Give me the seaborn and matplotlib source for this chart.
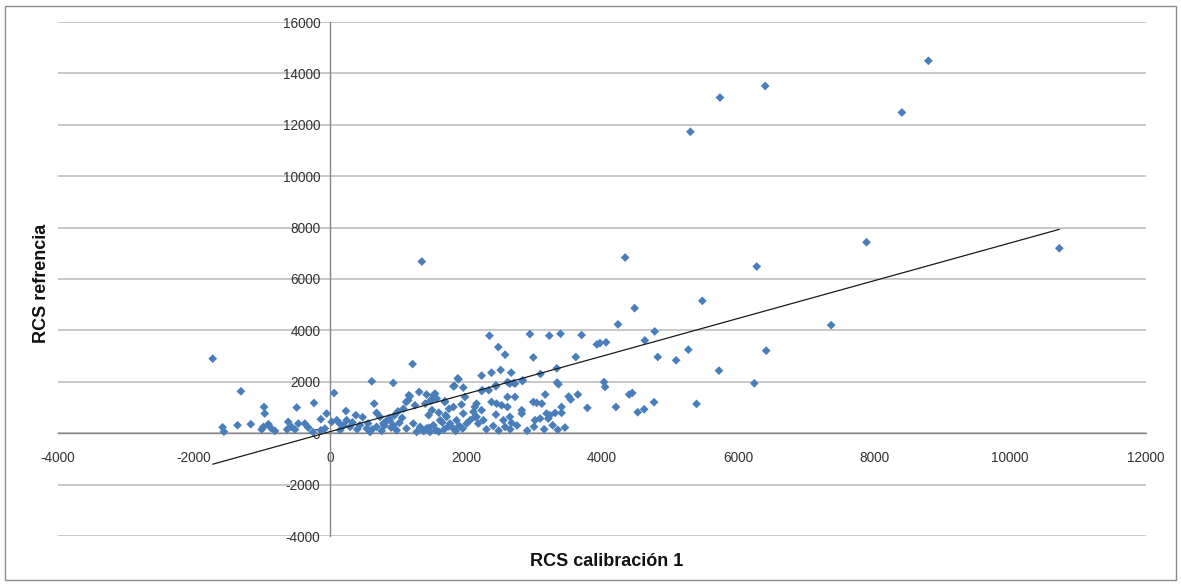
import numpy as np
import pandas as pd
import matplotlib
matplotlib.use("Agg")
import matplotlib.pyplot as plt
import seaborn as sns
from matplotlib.patches import Rectangle

# ---- data ----
calib_x = [
    5300, 5735, 6400, 8410, 8800, 7890, 6275, 5475, 4775, 4630, 7370, 4820, 5090, 5270, 6415,
    5720, 6240, 4765, 4620, 5390, 10725, 1350, 4340, 4480, 4235, 4060, 3970, 4030, 4045, 4400,
    4445, 4205, 4525, 1215, 2345, 2475, 2575, 2940, 3225, 3390, 3700, 2990, 3615, 3925, 2230,
    2375, 2510, 2665, 3095, 3335, 1880, 1815, 1890, 1960, 2240, 2335, 2440, 2610, 2705, 2835,
    3165, 3340, 3510, 3540, 3645, 3785, 1420, 1545, 1495, 1690, -1725, -1310, -1580, -1560, -1360,
    -1165, -970, -960, -980, -905, -870, -810, -1005, -615, -630, -565, -515, -490, -465, -370,
    -320, -235, -135, -135, -75, -50, 60, 25, 100, -250, 615, 930, 1310, 1175, 1150,
    1570, 1830, 1160, 1520, 1120, 1250, 1400, 1470, 650, 235, 380, 685, 735, 1690, 1815,
    1935, 1985, 2155, 2110, 2155, 145, 245, 295, 440, 540, 590, 685, 785, 880, 930,
    980, 1125, 1225, 1275, 1325, 1420, 1470, 1520, 1620, 1715, 1765, 1815, 1860, 1960, 2010,
    2060, 2130, 2180, 3360, 2230, 2440, 2645, 2720, 2830, 2610, 2720, 2130, 2230, 2375, 2450,
    2525, 2610, 2255, 2440, 2550, 2645, 2670, 2575, 2820, 2820, 2990, 3040, 3115, 3015, 3090,
    3185, 3235, 3310, 3210, 3275, 3405, 3405, 3455, 150, 330, 480, 560, 620, 760, 820,
    900, 1020, 1060, 200, 400, 1380, 1450, 1560, 1600, 1680, 1740, 1850, 1900, 1950, 1650,
    1600, 1700, 1750, 1500, 1450, 2300, 2400, 2480, 2650, 2750, 2900, 3000, 3150, 3350, 800,
    870, 950, 1000, 1080,
]
ref_y = [
    11730, 13060, 13510, 12480, 14490, 7430, 6485, 5150, 3960, 3610, 4205, 2965, 2835, 3250, 3210,
    2435, 1940, 1205, 930, 1140, 7195, 6680, 6835, 4865, 4235, 3535, 3505, 1990, 1800, 1505,
    1565, 1020, 815, 2690, 3795, 3350, 3055, 3855, 3795, 3870, 3820, 2950, 2965, 3455, 2240,
    2355, 2460, 2355, 2305, 2525, 2135, 1825, 2095, 1775, 1670, 1670, 1825, 1990, 1955, 2060,
    1505, 1970, 1425, 1310, 1505, 985, 1505, 1540, 1280, 1245, 2900, 1630, 230, 60, 310,
    350, 1020, 765, 245, 350, 205, 90, 145, 440, 145, 245, 145, 1000, 375, 375,
    220, 1175, 545, 115, 180, 765, 1565, 440, 505, 40, 2020, 1955, 1605, 1435, 1280,
    1345, 1840, 1475, 1475, 1215, 1085, 1150, 1255, 1150, 865, 700, 790, 635, 1215, 1020,
    1115, 1410, 1150, 830, 635, 375, 505, 245, 310, 180, 50, 245, 375, 505, 310,
    115, 180, 375, 50, 245, 180, 50, 310, 505, 635, 375, 180, 505, 765, 375,
    505, 635, 375, 1905, 1645, 1865, 1930, 1930, 2030, 1410, 1410, 1020, 895, 1215, 1150,
    1085, 1020, 505, 725, 505, 635, 400, 245, 895, 765, 1215, 1180, 1150, 505, 570,
    765, 700, 790, 570, 310, 1020, 790, 220, 120, 420, 620, 380, 150, 90, 450,
    220, 400, 600, 300, 150, 80, 210, 120, 60, 150, 260, 90, 290, 180, 420,
    800, 700, 950, 900, 700, 150, 280, 100, 150, 300, 100, 250, 150, 130, 300,
    580, 700, 850, 950,
]
# linear trend line (Excel-style), coefficients
trend_slope = 0.734
trend_intercept = 60.0

x_ticks = [-4000, -2000, 0, 2000, 4000, 6000, 8000, 10000, 12000]
y_ticks = [-4000, -2000, 0, 2000, 4000, 6000, 8000, 10000, 12000, 14000, 16000]
x_label = "RCS calibración 1"
y_label = "RCS refrencia"

df = pd.DataFrame({"x": calib_x, "y": ref_y})

sns.set_theme(style="white")
plt.rcParams["font.family"] = ["Liberation Sans", "DejaVu Sans"]

fig = plt.figure(figsize=(11.81, 5.86), dpi=100)
ax = fig.add_axes([58 / 1181, 1 - 536 / 586, (1146 - 58) / 1181, (536 - 22) / 586])

axis_gray = "#868686"
ax.yaxis.grid(True, color="#c4c4c4", linewidth=1.3)
ax.xaxis.grid(False)
ax.set_axisbelow(True)

sns.scatterplot(data=df, x="x", y="y", marker="D", s=20, color="#4a7ebb",
                edgecolor="none", linewidth=0, ax=ax, zorder=3, legend=False)

tx = np.array([df["x"].min(), df["x"].max()])
sns.lineplot(x=tx, y=trend_slope * tx + trend_intercept, color="#1a1a1a",
             linewidth=0.9, ax=ax, zorder=4, legend=False)

ax.set_xlim(-4000, 12000)
ax.set_ylim(-4000, 16000)
ax.set_xticks(x_ticks)
ax.set_yticks(y_ticks)
ax.set_xticklabels([str(v) for v in x_ticks])
ax.set_yticklabels([str(v) for v in y_ticks])

for s in ["top", "right"]:
    ax.spines[s].set_visible(False)
ax.spines["left"].set_position(("data", 0))
ax.spines["bottom"].set_position(("data", 0))
for s in ["left", "bottom"]:
    ax.spines[s].set_color(axis_gray)
    ax.spines[s].set_linewidth(1.0)

ax.tick_params(axis="both", which="major", direction="out", length=5, width=1,
               color=axis_gray, labelsize=9.8, labelcolor="#333333")
ax.tick_params(axis="x", pad=8)
ax.tick_params(axis="y", pad=2)

ax.set_xlabel(x_label, fontsize=13, fontweight="bold", color="#111111")
ax.set_ylabel(y_label, fontsize=13, fontweight="bold", color="#111111")
ax.xaxis.set_label_coords((607 - 58) / 1088, -(553 - 536) / 514)
ax.yaxis.set_label_coords(-(58 - 50) / 1088, (536 - 283) / 514)

fig.patches.append(Rectangle((5 / 1181, 6 / 586), 1171 / 1181, 574 / 586,
                             transform=fig.transFigure, fill=False,
                             edgecolor="#8c8c8c", linewidth=1.0))

fig.savefig("out.png", dpi=100)
